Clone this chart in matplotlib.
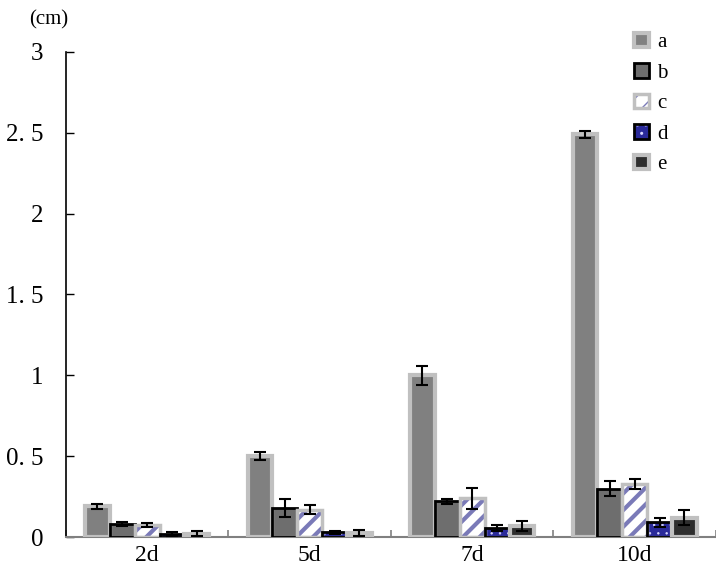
import numpy as np
import matplotlib
matplotlib.use("Agg")
import matplotlib.pyplot as plt
from matplotlib.patches import Patch

plt.rcParams['font.family'] = ['Liberation Serif', 'DejaVu Serif']

days = ['2d', '5d', '7d', '10d']
series = ['a', 'b', 'c', 'd', 'e']
vals = {
    'a': [0.19, 0.50, 1.00, 2.49],
    'b': [0.08, 0.18, 0.22, 0.30],
    'c': [0.075, 0.17, 0.24, 0.33],
    'd': [0.02, 0.03, 0.055, 0.09],
    'e': [0.02, 0.025, 0.07, 0.12],
}
errs = {
    'a': [0.015, 0.025, 0.06, 0.02],
    'b': [0.012, 0.055, 0.015, 0.045],
    'c': [0.012, 0.025, 0.065, 0.03],
    'd': [0.012, 0.01, 0.02, 0.03],
    'e': [0.015, 0.02, 0.03, 0.045],
}
yticks = [0, 0.5, 1, 1.5, 2, 2.5, 3]
ytick_labels = ['0', '0. 5', '1', '1. 5', '2', '2. 5', '3']

# fill, hatch, hatch colour, hatch width, edge colour, edge width
styles = {
    'a': ('#808080', None, None, 1.0, '#c0c0c0', 3.0),
    'b': ('#6e6e6e', None, None, 1.0, '#000000', 2.0),
    'c': ('#ffffff', '//', '#7a7ab8', 3.0, '#c0c0c0', 2.5),
    'd': ('#2a2a9a', '..', '#d8d8ff', 0.5, '#000000', 2.0),
    'e': ('#2e2e2e', None, None, 1.0, '#c0c0c0', 3.0),
}

fig = plt.figure(figsize=(7.16, 5.71), dpi=100)
ax = fig.add_axes([0.092, 0.0595, 0.908, 0.8495])

x = np.arange(len(days))
w = 0.153
handles = []
for i, s in enumerate(series):
    fc, hatch, hc, hlw, ec, lw = styles[s]
    pos = x + (i - 2) * w
    with plt.rc_context({'hatch.linewidth': hlw}):
        if hatch:
            ax.bar(pos, vals[s], w, color=fc, hatch=hatch, edgecolor=hc, linewidth=0, zorder=2)
        else:
            ax.bar(pos, vals[s], w, color=fc, linewidth=0, zorder=2)
        h1 = Patch(facecolor=fc, hatch=hatch, edgecolor=hc if hatch else fc, linewidth=0)
    ax.bar(pos, vals[s], w, fill=False, edgecolor=ec, linewidth=lw, zorder=3)
    ax.errorbar(pos, vals[s], yerr=errs[s], fmt='none', ecolor='black',
                elinewidth=1.5, capsize=4.5, capthick=1.5, zorder=4)
    h2 = Patch(fill=False, edgecolor=ec, linewidth=lw)
    handles.append((h1, h2))

ax.set_xlim(-0.5, 3.5)
ax.set_ylim(0, 3)
ax.set_yticks(yticks)
ax.set_yticklabels(ytick_labels, fontsize=18)
ax.set_xticks(x)
ax.set_xticklabels(days, fontsize=17)
ax.set_xticks(np.arange(-0.5, 4, 1), minor=True)
ax.tick_params(axis='x', which='major', length=0, pad=6)
ax.tick_params(axis='x', which='minor', length=5, direction='in', color='#808080', width=1.2)
ax.tick_params(axis='y', direction='in', length=6, width=1, pad=16)

for sp in ['top', 'right']:
    ax.spines[sp].set_visible(False)
ax.spines['left'].set_color('black')
ax.spines['left'].set_linewidth(1.2)
ax.spines['bottom'].set_color('#808080')
ax.spines['bottom'].set_linewidth(1.5)

ax.legend(handles, series, loc='upper left', bbox_to_anchor=(0.845, 1.078),
          frameon=False, fontsize=15, handlelength=0.7, handleheight=0.7,
          handletextpad=0.4, labelspacing=0.52)

fig.text(0.04, 0.966, '(cm)', fontsize=15, ha='left', va='center')

fig.savefig('out.png', dpi=100)
